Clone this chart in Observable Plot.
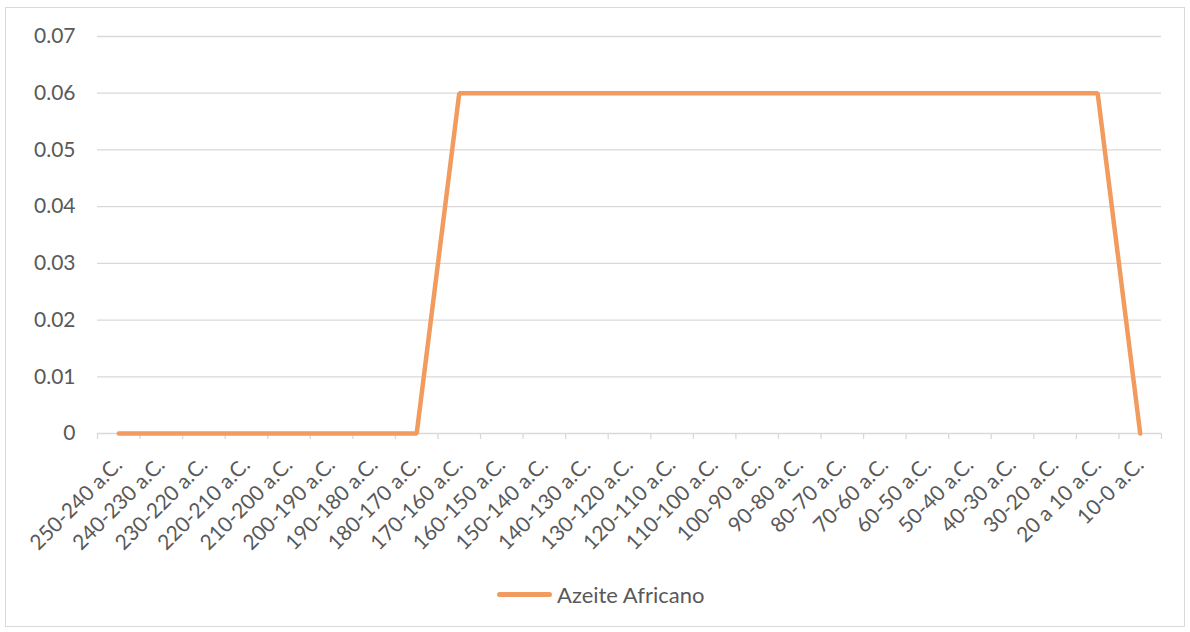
<!DOCTYPE html>
<html>
<head>
<meta charset="utf-8">
<script src="https://cdn.jsdelivr.net/npm/d3@7"></script>
<script src="https://cdn.jsdelivr.net/npm/@observablehq/plot@0.6"></script>
<style>
  html, body { margin: 0; padding: 0; background: #fff; }
  #wrap { position: relative; width: 1190px; height: 632px; overflow: hidden; font-family: Lato, "Open Sans", sans-serif; }
  #frame { position: absolute; left: 5px; top: 7px; width: 1180px; height: 620px; border: 1px solid #d9d9d9; box-sizing: border-box; }
  #chart { position: absolute; left: 0; top: 0; }
  #legend { position: absolute; left: 497px; top: 581px; display: flex; align-items: center; font-size: 22px; color: #595959; }
  #legend .sw { width: 55px; height: 5px; background: #F29B5E; border-radius: 3px; margin-right: 5px; }
</style>
</head>
<body>
<div id="wrap">
  <div id="frame"></div>
  <div id="chart"></div>
  <div id="legend"><span class="sw"></span><span>Azeite Africano</span></div>
</div>
<script>
const categories = [
  "250-240 a.C.", "240-230 a.C.", "230-220 a.C.", "220-210 a.C.", "210-200 a.C.",
  "200-190 a.C.", "190-180 a.C.", "180-170 a.C.", "170-160 a.C.", "160-150 a.C.",
  "150-140 a.C.", "140-130 a.C.", "130-120 a.C.", "120-110 a.C.", "110-100 a.C.",
  "100-90 a.C.", "90-80 a.C.", "80-70 a.C.", "70-60 a.C.", "60-50 a.C.",
  "50-40 a.C.", "40-30 a.C.", "30-20 a.C.", "20 a 10 a.C.", "10-0 a.C."
];
const azeiteAfricano = [
  0, 0, 0, 0, 0, 0, 0, 0, 0.06, 0.06,
  0.06, 0.06, 0.06, 0.06, 0.06, 0.06, 0.06, 0.06, 0.06, 0.06,
  0.06, 0.06, 0.06, 0.06, 0
];
const yTicks = [0, 0.01, 0.02, 0.03, 0.04, 0.05, 0.06, 0.07];
const seriesName = "Azeite Africano";

const data = categories.map((c, i) => ({cat: c, value: azeiteAfricano[i]}));

const W = 1190, H = 575;
const mL = 97, mR = 29, mT = 36, mB = 142;
const step = (W - mL - mR) / categories.length;

const plot = Plot.plot({
  width: W,
  height: H,
  marginLeft: mL,
  marginRight: mR,
  marginTop: mT,
  marginBottom: mB,
  style: {fontFamily: "Lato, 'Open Sans', sans-serif", color: "#595959", background: "transparent"},
  x: {type: "point", domain: categories, padding: 0.5, round: false, label: null},
  y: {domain: [0, 0.07], label: null},
  marks: [
    Plot.gridY(yTicks, {stroke: "#d9d9d9", strokeOpacity: 1, strokeWidth: 1.3}),
    Plot.ruleX(categories, {x: d => d, y1: 0, y2: 0, insetBottom: -6, dx: -step / 2, stroke: "#d9d9d9", strokeWidth: 1.3}),
    Plot.ruleX(categories.slice(-1), {x: d => d, y1: 0, y2: 0, insetBottom: -6, dx: step / 2, stroke: "#d9d9d9", strokeWidth: 1.3}),
    Plot.axisY(yTicks, {tickSize: 0, tickPadding: 22, fontSize: 21, fill: "#595959",
      tickFormat: d => d === 0 ? "0" : d.toFixed(2)}),
    Plot.axisX({tickSize: 0, tickPadding: 28, dx: 0, tickRotate: -45, fontSize: 21, fill: "#595959"}),
    Plot.line(data, {x: "cat", y: "value", stroke: "#F29B5E", strokeWidth: 4.5, strokeLinejoin: "miter", strokeLinecap: "round"})
  ]
});
document.getElementById("chart").appendChild(plot);
</script>
</body>
</html>
